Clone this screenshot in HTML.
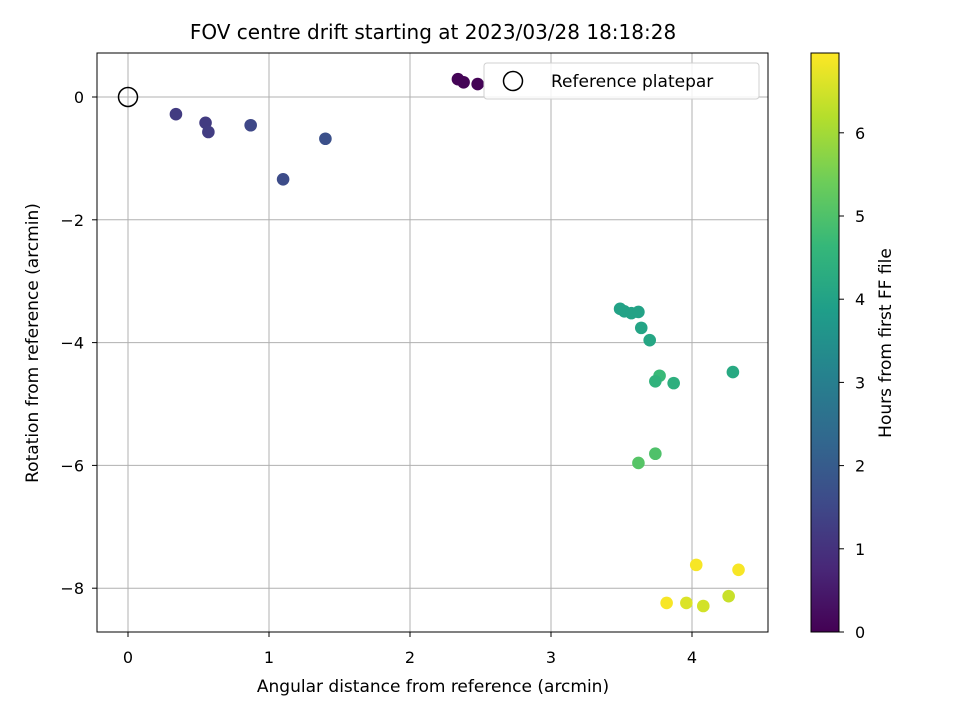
<!DOCTYPE html>
<html><head><meta charset="utf-8"><style>body{margin:0;background:#fff}svg{font-family:"DejaVu Sans","Liberation Sans",sans-serif}</style></head>
<body>
<svg id="c" width="960" height="720" viewBox="0 0 960 720"></svg>
<script>
const xs=[2.34,2.38,2.48,0.34,0.55,0.57,0.87,1.10,1.40,3.49,3.52,3.57,3.62,3.64,3.70,3.77,3.74,3.87,4.29,3.74,3.62,4.03,4.33,3.82,3.96,4.08,4.26];
const ys=[0.29,0.24,0.21,-0.28,-0.42,-0.57,-0.46,-1.34,-0.68,-3.45,-3.49,-3.52,-3.50,-3.76,-3.96,-4.54,-4.63,-4.66,-4.48,-5.81,-5.96,-7.62,-7.70,-8.24,-8.24,-8.29,-8.13];
const hours=[0.05,0.05,0.05,1.2,1.2,1.25,1.5,1.6,1.7,4.0,4.0,4.0,4.0,4.05,4.1,4.7,4.5,4.4,4.2,5.0,5.1,6.9,6.9,6.9,6.6,6.5,6.4];
const xTicks=[0,1,2,3,4];const yTicks=[0,-2,-4,-6,-8];const cTicks=[0,1,2,3,4,5,6];
const NS="http://www.w3.org/2000/svg",svg=document.getElementById('c');
function el(t,a,p){const e=document.createElementNS(NS,t);for(const k in a)e.setAttribute(k,a[k]);(p||svg).appendChild(e);return e;}
const L=97,R=768,T=53,B=632,HMAX=6.96;
const sx=v=>128+v*141, sy=v=>97-v*61.4, sc=h=>632-h*83.2;
const vir=[[68,1,84],[72,40,120],[62,74,137],[49,104,142],[38,130,142],[31,158,137],[53,183,121],[109,205,89],[180,222,44],[253,231,37]];
function cmap(t){t=Math.max(0,Math.min(1,t))*9;const i=Math.min(8,Math.floor(t)),f=t-i,a=vir[i],b=vir[i+1];return `rgb(${a.map((v,k)=>Math.round(v+(b[k]-v)*f)).join(',')})`;}
xTicks.forEach(v=>{const g=el('line',{x1:sx(v),x2:sx(v),y1:T,y2:B,stroke:'#b0b0b0','stroke-width':1});
el('line',{x1:sx(v),x2:sx(v),y1:B,y2:B+5,stroke:'#000'});
const l=el('text',{x:sx(v),y:B+31,'text-anchor':'middle','font-size':16});l.textContent=v;});
yTicks.forEach(v=>{const g=el('line',{x1:L,x2:R,y1:sy(v),y2:sy(v),stroke:'#b0b0b0','stroke-width':1});
el('line',{x1:L-5,x2:L,y1:sy(v),y2:sy(v),stroke:'#000'});
const l=el('text',{x:L-13,y:sy(v)+6,'text-anchor':'end','font-size':16});l.textContent=v===0?'0':'−'+(-v);});
xs.forEach((x,i)=>{const c=el('circle',{cx:sx(x),cy:sy(ys[i]),r:6.3,fill:cmap(hours[i]/HMAX)});});
const ref=el('circle',{cx:sx(0),cy:sy(0),r:9.5,fill:'none',stroke:'#000','stroke-width':1.5});
el('rect',{x:L,y:T,width:R-L,height:B-T,fill:'none',stroke:'#000','stroke-width':1});
const lg=el('g',{});
el('rect',{x:484,y:63,width:275,height:36,rx:3,fill:'#fff','fill-opacity':0.85,stroke:'#d0d0d0'},lg);
el('circle',{cx:513,cy:81,r:9.5,fill:'none',stroke:'#000','stroke-width':1.5},lg);
const lt=el('text',{x:551,y:87,'font-size':17},lg);lt.textContent='Reference platepar';
const tt=el('text',{x:433,y:39,'text-anchor':'middle','font-size':20});tt.textContent='FOV centre drift starting at 2023/03/28 18:18:28';
const xt=el('text',{x:433,y:692,'text-anchor':'middle','font-size':17});xt.textContent='Angular distance from reference (arcmin)';
const yt=el('text',{x:38,y:343,'text-anchor':'middle','font-size':17,transform:'rotate(-90 38 343)'});yt.textContent='Rotation from reference (arcmin)';
const defs=el('defs',{});const gr=el('linearGradient',{id:'vg',x1:0,y1:1,x2:0,y2:0},defs);
for(let i=0;i<=9;i++)el('stop',{offset:i/9,'stop-color':cmap(i/9)},gr);
const cb=el('rect',{x:811,y:T,width:28,height:B-T,fill:'url(#vg)',stroke:'#000'});
cTicks.forEach(v=>{el('line',{x1:839,x2:844,y1:sc(v),y2:sc(v),stroke:'#000'});const l=el('text',{x:855,y:sc(v)+6,'font-size':16});l.textContent=v;});
const ct=el('text',{x:891,y:343,'text-anchor':'middle','font-size':17,transform:'rotate(-90 891 343)'});ct.textContent='Hours from first FF file';
</script>
</body></html>
